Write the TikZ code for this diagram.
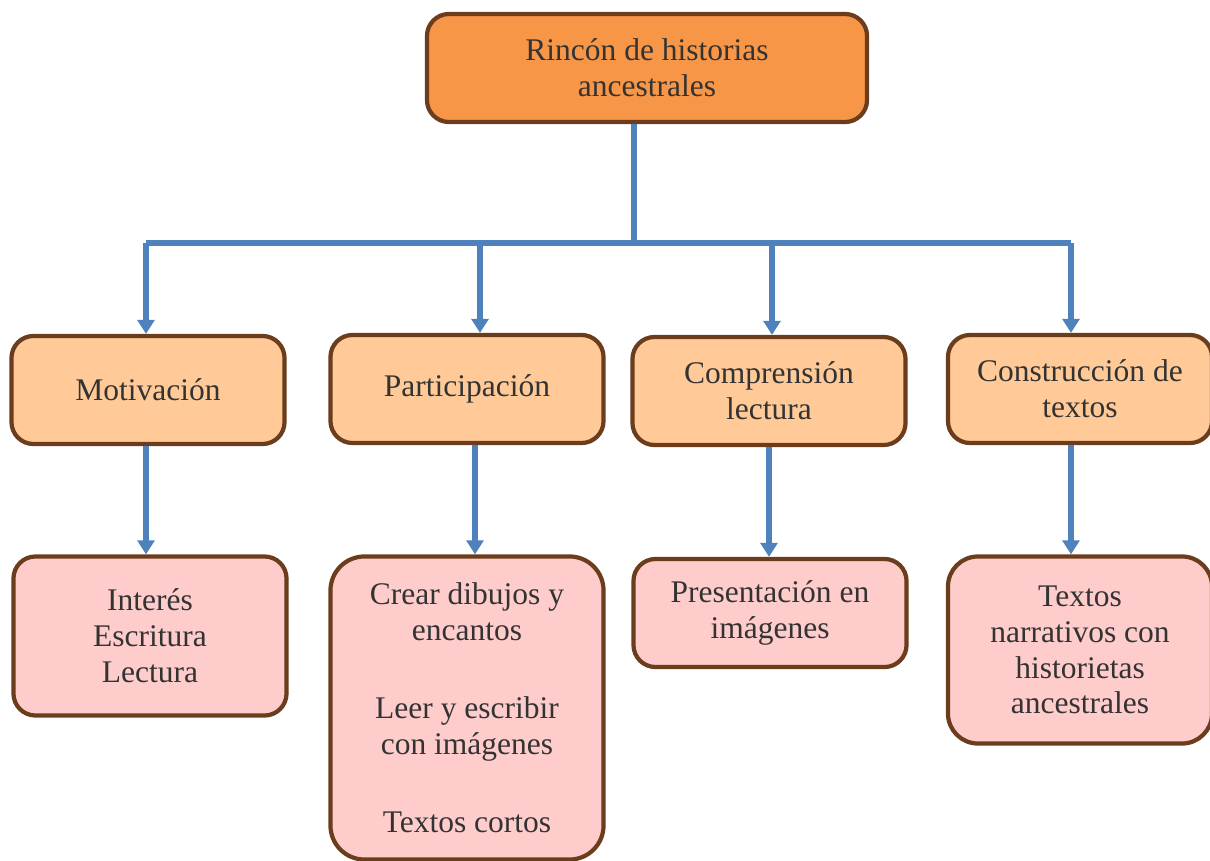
\documentclass[tikz,border=0pt]{standalone}
\usepackage{fontspec}
\setmainfont{Liberation Serif}
\usetikzlibrary{positioning,arrows.meta}
\definecolor{rootfill}{HTML}{F79646}
\definecolor{midfill}{HTML}{FFCA97}
\definecolor{leaffill}{HTML}{FFCCCC}
\definecolor{boxline}{HTML}{6B3D1C}
\definecolor{busblue}{HTML}{4F81BD}
\definecolor{boxtext}{HTML}{333333}

\begin{document}
\begin{tikzpicture} [x=0.025cm, y=-0.025cm, nodes={font=\fontsize{22.4}{25.5}\selectfont,
            text=boxtext, align=center, inner sep=0},
          box/.style={draw=boxline, line width=3pt, rounded corners=0.55cm,
            minimum width=6.825cm, minimum height=2.7cm},
          rootbox/.style={box, fill=rootfill, minimum width=11cm},
          midbox/.style={box, fill=midfill},
          leafbox/.style={box, fill=leaffill},
          bus/.style={draw=busblue, line width=3.7pt},
          arrow/.style={bus, -{Triangle[width=12pt,length=10pt]}}]
  \useasboundingbox (0,0) rectangle (1210,861);
  % top
  \node[rootbox] (root) at (647,68) {Rinc\'on de historias\\ancestrales};
  % second row
  \node[midbox] (motiv) at (148,390) {Motivaci\'on};
  \node[midbox] (partic) at (467,389) {Participaci\'on};
  \node[midbox] (compr) at (769,391) {Comprensi\'on\\lectura};
  \node[midbox, minimum width=6.6cm] (constr) at (1080,389) {Construcci\'on de\\textos};
  % third row
  \node[leafbox, minimum height=3.975cm] (interes) at (150,636) {Inter\'es\\Escritura\\Lectura};
  \node[leafbox, minimum height=7.575cm, rounded corners=0.85cm] (crear) at (467,708)
    {Crear dibujos y\\encantos\\[30pt]Leer y escribir\\con im\'agenes\\[30pt]Textos cortos};
  \node[leafbox] (present) at (770,613) {Presentaci\'on en\\im\'agenes};
  \node[leafbox, minimum width=6.6cm, minimum height=4.675cm, rounded corners=0.75cm]
    (narr) at (1080,650) {Textos\\narrativos con\\historietas\\ancestrales};
  % connectors
  \coordinate (hubL) at (146,243);
  \coordinate (hubM) at (634,243);
  \coordinate (hubR) at (1071,243);
  \draw[bus] (root.south -| hubM) -- (hubM);
  \draw[bus] (hubL) -- (hubR);
  \foreach \n/\dx in {motiv/-2, partic/13, compr/3, constr/-9}
    \draw[arrow] ([xshift=\dx*0.025cm]\n.north |- hubL) -- ([xshift=\dx*0.025cm]\n.north);
  \foreach \a/\b/\dx in {motiv/interes/-2, partic/crear/8, compr/present/0, constr/narr/-9}
    \draw[arrow] ([xshift=\dx*0.025cm]\a.south) -- ([xshift=\dx*0.025cm]\a.south |- \b.north);
\end{tikzpicture}
\end{document}
